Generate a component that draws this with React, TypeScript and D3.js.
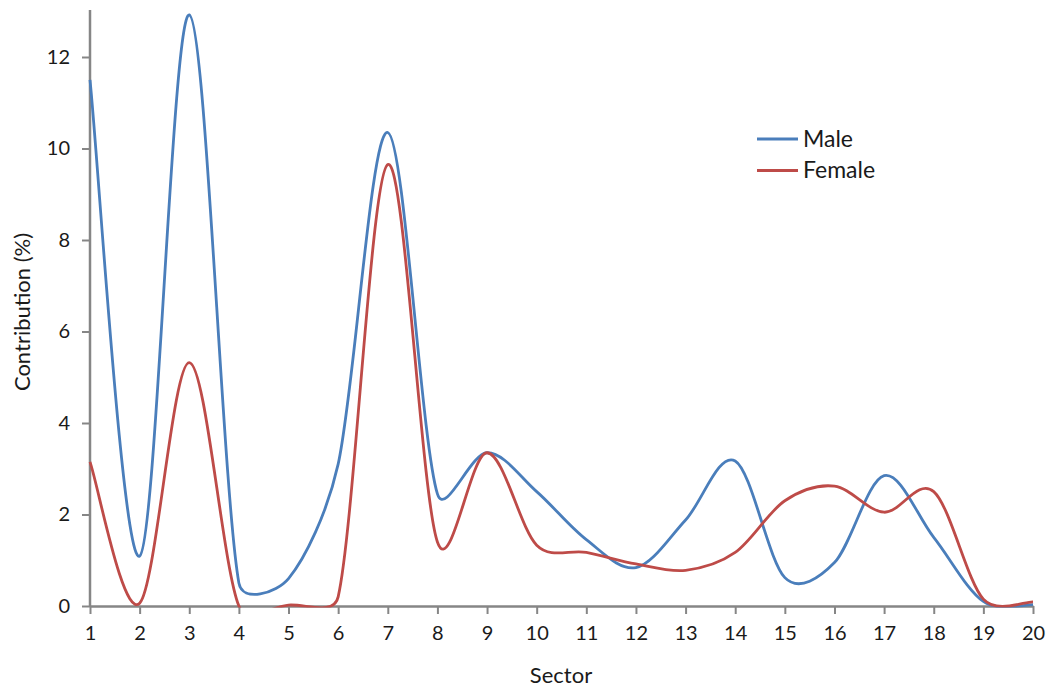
import React, { useEffect, useRef } from 'react';
import * as d3 from 'd3';

const sectors = [1, 2, 3, 4, 5, 6, 7, 8, 9, 10, 11, 12, 13, 14, 15, 16, 17, 18, 19, 20];
const male = [11.5, 1.09, 12.92, 0.5, 0.6, 3.1, 10.35, 2.45, 3.35, 2.5, 1.45, 0.84, 1.88, 3.17, 0.62, 0.95, 2.85, 1.5, 0.1, 0.03];
const female = [3.15, 0.06, 5.32, 0.0, 0.02, 0.2, 9.65, 1.4, 3.35, 1.33, 1.17, 0.92, 0.78, 1.17, 2.3, 2.62, 2.05, 2.5, 0.15, 0.09];
const yTicks = [0, 2, 4, 6, 8, 10, 12];
const seriesNames = ['Male', 'Female'];
const seriesColors = ['#4a7ebb', '#be4b48'];

const FONT = 'Lato, "Open Sans", sans-serif';

// spreadsheet-style smoothing: tangent parallel to neighbour chord,
// arm = chord/6 but capped relative to the segment it sits on
function smoothPath(pts: [number, number][]) {
  const p = d3.path();
  const n = pts.length;
  const tan = pts.map((pt, i) => {
    const a = pts[Math.max(0, i - 1)];
    const b = pts[Math.min(n - 1, i + 1)];
    return [(b[0] - a[0]) / 6, (b[1] - a[1]) / 6];
  });
  const clampArm = (t: number[], segLen: number) => {
    const len = Math.hypot(t[0], t[1]);
    const max = segLen * 0.4;
    const k = len > max && len > 0 ? max / len : 1;
    return [t[0] * k, t[1] * k];
  };
  p.moveTo(pts[0][0], pts[0][1]);
  for (let i = 0; i < n - 1; i++) {
    const a = pts[i];
    const b = pts[i + 1];
    const seg = Math.hypot(b[0] - a[0], b[1] - a[1]);
    const ta = clampArm(tan[i], seg);
    const tb = clampArm(tan[i + 1], seg);
    p.bezierCurveTo(a[0] + ta[0], a[1] + ta[1], b[0] - tb[0], b[1] - tb[1], b[0], b[1]);
  }
  return p.toString();
}

function App() {
  const ref = useRef<SVGSVGElement>(null);

  useEffect(() => {
    const svg = d3.select(ref.current);
    svg.selectAll('*').remove();

    const x = d3.scaleLinear().domain([1, 20]).range([90, 1033]);
    const y = d3.scaleLinear().domain([0, 13]).range([606, 11.25]);
    const axisColor = '#868686';

    svg.append('defs').append('clipPath').attr('id', 'plotClip')
      .append('rect').attr('x', 80).attr('y', 0).attr('width', 970).attr('height', 607.5);

    // y axis
    const yAxis = svg.append('g').attr('transform', `translate(${x(1)},0)`)
      .call(d3.axisLeft(y).tickValues(yTicks).tickSize(8).tickPadding(12).tickSizeOuter(0));
    yAxis.select('.domain').attr('stroke', axisColor).attr('stroke-width', 2.5)
      .attr('d', `M0,${y(0)}V10`);
    yAxis.selectAll('.tick line').attr('stroke', axisColor).attr('stroke-width', 2);
    yAxis.selectAll('.tick text').attr('font-family', FONT).attr('font-size', 20).attr('fill', '#1a1a1a');

    // x axis
    const xAxis = svg.append('g').attr('transform', `translate(0,${y(0)})`)
      .call(d3.axisBottom(x).tickValues(sectors).tickFormat(d3.format('d')).tickSize(8).tickPadding(12).tickSizeOuter(0));
    xAxis.select('.domain').attr('stroke', axisColor).attr('stroke-width', 2.5);
    xAxis.selectAll('.tick line').attr('stroke', axisColor).attr('stroke-width', 2);
    xAxis.selectAll('.tick text').attr('font-family', FONT).attr('font-size', 20).attr('fill', '#1a1a1a');

    // lines
    const plot = svg.append('g').attr('clip-path', 'url(#plotClip)');
    [male, female].forEach((vals, i) => {
      const pts = vals.map((v, j) => [x(sectors[j]), y(v)] as [number, number]);
      plot.append('path')
        .attr('d', smoothPath(pts))
        .attr('fill', 'none')
        .attr('stroke', seriesColors[i])
        .attr('stroke-width', 2.8)
        .attr('stroke-linejoin', 'round');
    });

    // axis titles
    svg.append('text')
      .attr('transform', `translate(30,${(y(0) + 10) / 2 + 4}) rotate(-90)`)
      .attr('text-anchor', 'middle')
      .attr('font-family', FONT).attr('font-size', 22).attr('fill', '#1a1a1a')
      .text('Contribution (%)');
    svg.append('text')
      .attr('x', 561).attr('y', 683)
      .attr('text-anchor', 'middle')
      .attr('font-family', FONT).attr('font-size', 22).attr('fill', '#1a1a1a')
      .text('Sector');

    // legend
    const legend = svg.append('g');
    seriesNames.forEach((name, i) => {
      const ly = 139 + i * 31.5;
      legend.append('line')
        .attr('x1', 757).attr('x2', 798).attr('y1', ly).attr('y2', ly)
        .attr('stroke', seriesColors[i]).attr('stroke-width', 2.8);
      legend.append('text')
        .attr('x', 803).attr('y', ly + 7.5)
        .attr('font-family', FONT).attr('font-size', 23).attr('fill', '#1a1a1a')
        .text(name);
    });
  }, []);

  return (
    <svg ref={ref} width={1047} height={688}
      style={{ position: 'absolute', left: 0, top: 0, background: '#fff' }} />
  );
}

export default App;
